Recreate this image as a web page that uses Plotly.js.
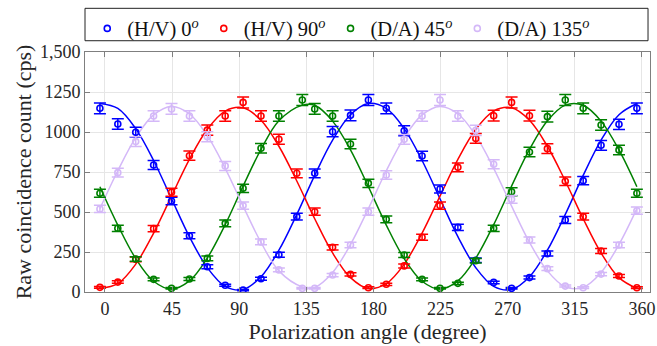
<!DOCTYPE html>
<html><head><meta charset="utf-8">
<script src="https://cdn.plot.ly/plotly-3.0.1.min.js"></script>
<style>
html,body{margin:0;padding:0;background:#fff}
#chart{width:657px;height:346px}
</style>
</head><body><div id="chart"></div>
<script>
// Measured angles (degrees) as they appear on the plot
const angleHV = [-3.4, 8.6, 20.6, 32.6, 44.6, 56.6, 68.6, 80.6, 92.6, 104.6, 116.6, 128.6, 140.6, 152.6, 164.6, 176.6, 188.6, 200.6, 212.6, 224.6, 236.6, 248.6, 260.6, 272.6, 284.6, 296.6, 308.6, 320.6, 332.6, 344.6, 356.6];
const angleDA = [-3.4, 8.6, 20.6, 32.6, 44.6, 56.6, 68.6, 80.6, 92.6, 104.6, 116.6, 132.3, 140.6, 152.6, 164.6, 176.6, 188.6, 200.6, 212.6, 224.6, 236.6, 248.6, 260.6, 272.6, 284.6, 296.6, 308.6, 320.6, 332.6, 344.6, 356.6];

// Raw coincidence counts (cps)
const countsHV0  = [1148, 1050, 998, 794, 569, 352, 158, 42, 12, 83, 233, 471, 742, 1002, 1104, 1200, 1148, 1008, 850, 644, 404, 198, 60, 23, 90, 240, 450, 696, 917, 1048, 1148];
const countsHV90 = [29, 62, 204, 396, 623, 852, 1012, 1100, 1185, 1100, 955, 742, 502, 279, 110, 27, 48, 163, 342, 540, 779, 960, 1102, 1185, 1102, 896, 692, 471, 256, 100, 27];
const countsDA45 = [617, 398, 206, 79, 23, 81, 210, 429, 648, 898, 1100, 1200, 1144, 1100, 925, 679, 454, 231, 79, 23, 54, 196, 398, 627, 875, 1096, 1200, 1148, 1044, 888, 617];
const countsDA135 = [519, 746, 940, 1100, 1144, 1100, 971, 788, 540, 313, 138, 23, 23, 106, 294, 502, 731, 954, 1100, 1200, 1100, 1010, 798, 579, 325, 146, 37, 27, 112, 294, 508];

// Fitted curves, read at the measured angles
const fitHV0  = [1178, 1147, 1021, 822, 583, 346, 152, 35, 15, 95, 261, 485, 729, 949, 1108, 1178, 1147, 1021, 822, 583, 346, 152, 35, 15, 95, 261, 485, 729, 949, 1108, 1178];
const fitHV90 = [22, 52, 174, 368, 599, 829, 1017, 1131, 1151, 1073, 911, 694, 458, 244, 90, 22, 52, 174, 368, 599, 829, 1017, 1131, 1151, 1073, 911, 694, 458, 244, 90, 22];
const fitDA45 = [658, 418, 209, 67, 18, 69, 212, 421, 662, 891, 1070, 1168, 1167, 1068, 888, 658, 418, 209, 67, 18, 69, 212, 421, 662, 891, 1070, 1168, 1167, 1068, 888, 658];
const fitDA135 = [521, 758, 965, 1107, 1160, 1114, 977, 773, 537, 310, 132, 32, 29, 122, 297, 521, 758, 965, 1107, 1160, 1114, 977, 773, 537, 310, 132, 32, 29, 122, 297, 521];

const seriesNames = ['(H/V) 0<sup><i>o</i></sup>', '(H/V) 90<sup><i>o</i></sup>', '(D/A) 45<sup><i>o</i></sup>', '(D/A) 135<sup><i>o</i></sup>'];
const colors = ['#0000ff', '#ff0000', '#008000', '#d4b8f8'];
const xTicks = [0, 45, 90, 135, 180, 225, 270, 315, 360];
const yTicks = [0, 250, 500, 750, 1000, 1250, 1500];
const yTickText = ['0', '250', '500', '750', '1000', '1250', '1,500'];

const xs = [angleHV, angleHV, angleDA, angleDA];
const ys = [countsHV0, countsHV90, countsDA45, countsDA135];
const fits = [fitHV0, fitHV90, fitDA45, fitDA135];

const traces = [];
for (let i = 0; i < 4; i++) {
  traces.push({
    x: xs[i], y: fits[i], mode: 'lines', type: 'scatter',
    line: {color: colors[i], width: 1.5, shape: 'spline', smoothing: 1},
    showlegend: false, hoverinfo: 'skip'
  });
}
for (let i = 0; i < 4; i++) {
  traces.push({
    x: xs[i], y: ys[i], mode: 'markers', type: 'scatter', name: seriesNames[i],
    marker: {symbol: 'circle-open', size: 6, color: colors[i], line: {width: 1.6, color: colors[i]}},
    error_y: {type: 'sqrt', visible: true, color: colors[i], thickness: 1.5, width: 6}
  });
}

const FAM = 'Liberation Serif';
const TXT = '#262626';
const layout = {
  width: 657, height: 346,
  margin: {l: 85, r: 7, t: 52, b: 54},
  paper_bgcolor: '#fff', plot_bgcolor: '#fff',
  font: {family: FAM, color: TXT},
  xaxis: {
    range: [-13.4, 365.4], tickvals: xTicks, ticktext: xTicks.map(String),
    showgrid: true, gridcolor: '#e6e6e6', gridwidth: 1, zeroline: false,
    showline: true, linecolor: '#7f7f7f', linewidth: 1, mirror: 'allticks',
    ticks: 'inside', ticklen: 5, tickcolor: '#7f7f7f',
    tickfont: {family: FAM, size: 18, color: TXT},
    title: {text: 'Polarization angle (degree)', font: {family: FAM, size: 22, color: TXT}, standoff: 2}
  },
  yaxis: {
    range: [0, 1500], tickvals: yTicks, ticktext: yTickText,
    showgrid: true, gridcolor: '#e6e6e6', gridwidth: 1, zeroline: false,
    showline: true, linecolor: '#7f7f7f', linewidth: 1, mirror: 'allticks',
    ticks: 'inside', ticklen: 5, tickcolor: '#7f7f7f',
    tickfont: {family: FAM, size: 18, color: TXT},
    title: {text: 'Raw coincidence count (cps)', font: {family: FAM, size: 22, color: TXT}, standoff: 2}
  },
  legend: {
    orientation: 'h', x: 0.004, xanchor: 'left', y: 1.181, yanchor: 'top',
    borderwidth: 0, bgcolor: 'rgba(0,0,0,0)',
    font: {family: FAM, size: 20.5, color: '#111'}
  },
  shapes: [{
    type: 'rect', xref: 'paper', yref: 'paper',
    x0: 0.0, x1: 0.9965, y0: 1.047, y1: 1.182,
    line: {color: '#222', width: 1}, fillcolor: 'rgba(0,0,0,0)'
  }],
  showlegend: true
};
Plotly.newPlot('chart', traces, layout, {displayModeBar: false, staticPlot: true});
</script></body></html>
